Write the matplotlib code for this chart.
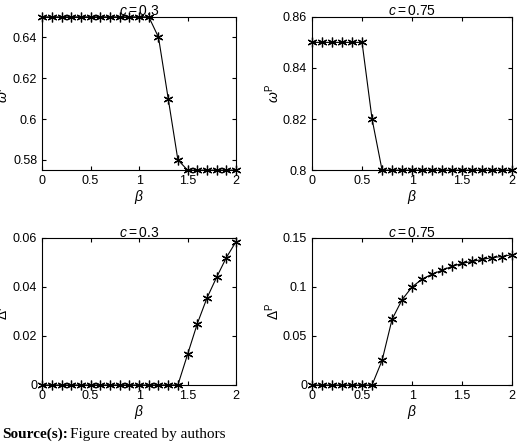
import matplotlib
matplotlib.use("Agg")
import matplotlib.pyplot as plt

beta = [round(0.1 * i, 1) for i in range(21)]
omega_c03 = [0.65] * 12 + [0.64, 0.61, 0.58] + [0.575] * 6
omega_c075 = [0.85] * 6 + [0.82] + [0.80] * 14
delta_c03 = [0] * 15 + [0.0125, 0.025, 0.0355, 0.044, 0.052, 0.0585]
delta_c075 = [0] * 7 + [0.025, 0.067, 0.087, 0.100, 0.108, 0.113, 0.117,
                        0.121, 0.124, 0.126, 0.128, 0.130, 0.131, 0.133]

plt.rcParams["font.family"] = ["Liberation Sans", "DejaVu Sans"]
plt.rcParams["font.size"] = 10
plt.rcParams["mathtext.fontset"] = "custom"
plt.rcParams["mathtext.it"] = "Liberation Sans:italic"
plt.rcParams["mathtext.rm"] = "Liberation Sans"

fig = plt.figure(figsize=(5.2, 4.43), dpi=100)
panels = [
    ([0.081, 0.616, 0.373, 0.346], omega_c03, "$c = 0.3$", r"$\omega^{\mathrm{P}}$",
     (0.575, 0.65), [0.58, 0.60, 0.62, 0.64], ["0.58", "0.6", "0.62", "0.64"]),
    ([0.6, 0.616, 0.385, 0.346], omega_c075, "$c = 0.75$", r"$\omega^{\mathrm{P}}$",
     (0.80, 0.86), [0.80, 0.82, 0.84, 0.86], ["0.8", "0.82", "0.84", "0.86"]),
    ([0.081, 0.131, 0.373, 0.332], delta_c03, "$c = 0.3$", r"$\Delta^{\mathrm{P}}$",
     (0, 0.06), [0, 0.02, 0.04, 0.06], ["0", "0.02", "0.04", "0.06"]),
    ([0.6, 0.131, 0.385, 0.332], delta_c075, "$c = 0.75$", r"$\Delta^{\mathrm{P}}$",
     (0, 0.15), [0, 0.05, 0.10, 0.15], ["0", "0.05", "0.1", "0.15"]),
]
for rect, y, title, ylab, ylim, yt, ytl in panels:
    ax = fig.add_axes(rect)
    ax.plot(beta, y, color="black", lw=0.8, marker=(6, 2, 0), ms=7, mew=0.9,
            clip_on=False)
    ax.set_xlim(0, 2)
    ax.set_ylim(*ylim)
    ax.set_xticks([0, 0.5, 1, 1.5, 2])
    ax.set_xticklabels(["0", "0.5", "1", "1.5", "2"])
    ax.set_yticks(yt)
    ax.set_yticklabels(ytl)
    ax.tick_params(direction="in", top=True, right=True, length=3, labelsize=9)
    ax.set_title(title, fontsize=10, pad=1)
    ax.set_xlabel(r"$\beta$", fontsize=10, labelpad=1)
    ax.set_ylabel(ylab, fontsize=10, labelpad=1)

fig.text(0.005, 0.012, "Source(s):", family="Liberation Serif", weight="bold", fontsize=11)
fig.text(0.135, 0.012, "Figure created by authors", family="Liberation Serif", fontsize=11)
fig.savefig("out.png", dpi=100)
